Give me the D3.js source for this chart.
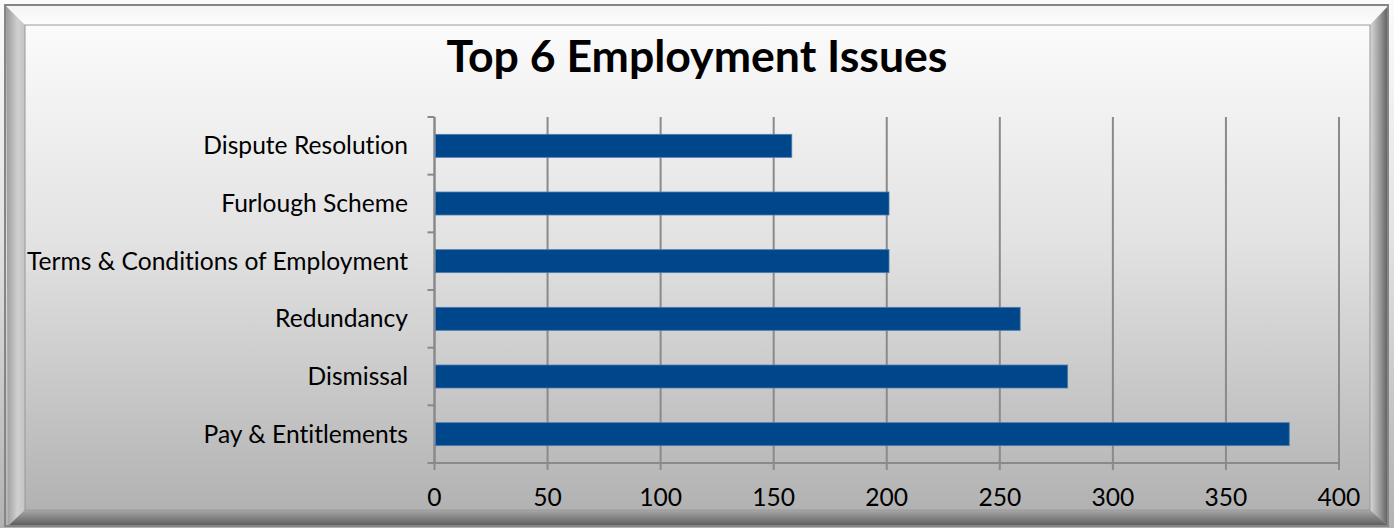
<!DOCTYPE html>
<html>
<head>
<meta charset="utf-8">
<script src="https://cdn.jsdelivr.net/npm/d3@7"></script>
<style>
  html, body { margin: 0; padding: 0; background: #ffffff; }
  svg { display: block; }
  text { font-family: Lato, "Open Sans", sans-serif; font-variant-ligatures: none; font-feature-settings: "liga" 0, "clig" 0; }
</style>
</head>
<body>
<svg id="chart" width="1394" height="528"></svg>
<script>
// Issue categories (top to bottom) and number of enquiries
const categories = ["Dispute Resolution", "Furlough Scheme", "Terms & Conditions of Employment", "Redundancy", "Dismissal", "Pay & Entitlements"];
const values = [158, 201, 201, 259, 280, 378];
const xTicks = [0, 50, 100, 150, 200, 250, 300, 350, 400];
const title = "Top 6 Employment Issues";

const W = 1394, H = 528;
const svg = d3.select("#chart");
const defs = svg.append("defs");

// Background gradient (light top, grey bottom)
const bg = defs.append("linearGradient").attr("id", "bg").attr("x1", 0).attr("y1", 0).attr("x2", 0).attr("y2", 1);
bg.append("stop").attr("offset", "0%").attr("stop-color", "#fbfbfb");
bg.append("stop").attr("offset", "45%").attr("stop-color", "#e2e2e2");
bg.append("stop").attr("offset", "100%").attr("stop-color", "#b2b2b2");

// Bevel gradients for the frame
const bevL = defs.append("linearGradient").attr("id", "bevL").attr("x1", 0).attr("y1", 0).attr("x2", 1).attr("y2", 0);
bevL.append("stop").attr("offset", "0%").attr("stop-color", "#9a9a9a");
bevL.append("stop").attr("offset", "60%").attr("stop-color", "#d0d0d0");
bevL.append("stop").attr("offset", "100%").attr("stop-color", "#c4c4c4");
const bevR = defs.append("linearGradient").attr("id", "bevR").attr("x1", 0).attr("y1", 0).attr("x2", 1).attr("y2", 0);
bevR.append("stop").attr("offset", "0%").attr("stop-color", "#d8d8d8");
bevR.append("stop").attr("offset", "50%").attr("stop-color", "#a0a0a0");
bevR.append("stop").attr("offset", "100%").attr("stop-color", "#5e5e5e");
const bevB = defs.append("linearGradient").attr("id", "bevB").attr("x1", 0).attr("y1", 0).attr("x2", 0).attr("y2", 1);
bevB.append("stop").attr("offset", "0%").attr("stop-color", "#a8a8a8");
bevB.append("stop").attr("offset", "60%").attr("stop-color", "#7a7a7a");
bevB.append("stop").attr("offset", "100%").attr("stop-color", "#5a5a5a");
const bevT = defs.append("linearGradient").attr("id", "bevT").attr("x1", 0).attr("y1", 0).attr("x2", 0).attr("y2", 1);
bevT.append("stop").attr("offset", "0%").attr("stop-color", "#f4f4f4");
bevT.append("stop").attr("offset", "100%").attr("stop-color", "#fdfdfd");

// Frame
svg.append("rect").attr("x", 0).attr("y", 0).attr("width", W).attr("height", H).attr("fill", "url(#bg)");
// bevel bands
svg.append("polygon").attr("points", `6,6 1388,6 1370,25 25,25`).attr("fill", "url(#bevT)");
svg.append("polygon").attr("points", `6,6 25,25 25,510 8,526`).attr("fill", "url(#bevL)");
svg.append("polygon").attr("points", `1388,6 1388,526 1370,510 1370,25`).attr("fill", "url(#bevR)");
svg.append("polygon").attr("points", `8,526 25,510 1370,510 1388,526`).attr("fill", "url(#bevB)");
// inner panel
svg.append("rect").attr("x", 25).attr("y", 25).attr("width", 1345).attr("height", 485).attr("fill", "url(#bg)")
  .attr("stroke", "#9a9a9a").attr("stroke-width", 1);
// outer border
svg.append("rect").attr("x", 5).attr("y", 5).attr("width", 1383).attr("height", 521)
  .attr("fill", "none").attr("stroke", "#858585").attr("stroke-width", 2);

// Title
svg.append("text").attr("x", 697).attr("y", 72).attr("text-anchor", "middle")
  .attr("font-size", 44.6).attr("font-weight", 700).attr("fill", "#000")
  .text(title);

// Plot area
const plot = { left: 434.5, right: 1339, top: 117, bottom: 463 };
const x = d3.scaleLinear().domain([0, 400]).range([plot.left, plot.right]);
const y = d3.scaleBand().domain(categories).range([plot.top, plot.bottom]).paddingInner(0.6).paddingOuter(0.3);
const yEdges = d3.scaleLinear().domain([0, categories.length]).range([plot.top, plot.bottom]);

const g = svg.append("g");

// Vertical gridlines with tick marks extending below the axis
g.selectAll("line.grid").data(xTicks).join("line")
  .attr("class", "grid")
  .attr("x1", d => x(d)).attr("x2", d => x(d))
  .attr("y1", plot.top).attr("y2", plot.bottom + 7)
  .attr("stroke", "#8a8a8a").attr("stroke-width", 2);

// Bottom axis line
g.append("line").attr("x1", plot.left).attr("x2", plot.right)
  .attr("y1", plot.bottom).attr("y2", plot.bottom)
  .attr("stroke", "#8a8a8a").attr("stroke-width", 2);

// Left axis with category tick marks
g.append("line").attr("x1", plot.left).attr("x2", plot.left)
  .attr("y1", plot.top).attr("y2", plot.bottom)
  .attr("stroke", "#8a8a8a").attr("stroke-width", 2);
g.selectAll("line.ytick").data(d3.range(categories.length + 1)).join("line")
  .attr("class", "ytick")
  .attr("x1", plot.left - 7).attr("x2", plot.left)
  .attr("y1", d => yEdges(d)).attr("y2", d => yEdges(d))
  .attr("stroke", "#8a8a8a").attr("stroke-width", 2);

// Bars
g.selectAll("rect.bar").data(values).join("rect")
  .attr("class", "bar")
  .attr("x", x(0) + 1)
  .attr("y", (d, i) => y(categories[i]) + y.bandwidth() / 2 - 11.5)
  .attr("width", d => x(d) - x(0) - 1)
  .attr("height", 23)
  .attr("fill", "#00468a")
  .attr("stroke", "#4d7cb0").attr("stroke-width", 0.8);

// Category labels
g.selectAll("text.cat").data(categories).join("text")
  .attr("class", "cat")
  .attr("x", 408).attr("y", d => y(d) + y.bandwidth() / 2)
  .attr("dy", "0.35em").attr("text-anchor", "end")
  .attr("font-size", 24.6).attr("fill", "#000")
  .text(d => d);

// Value tick labels
g.selectAll("text.xt").data(xTicks).join("text")
  .attr("class", "xt")
  .attr("x", d => x(d)).attr("y", 497)
  .attr("dy", "0.35em").attr("text-anchor", "middle")
  .attr("font-size", 24.6).attr("fill", "#000")
  .text(d => d);
</script>
</body>
</html>
